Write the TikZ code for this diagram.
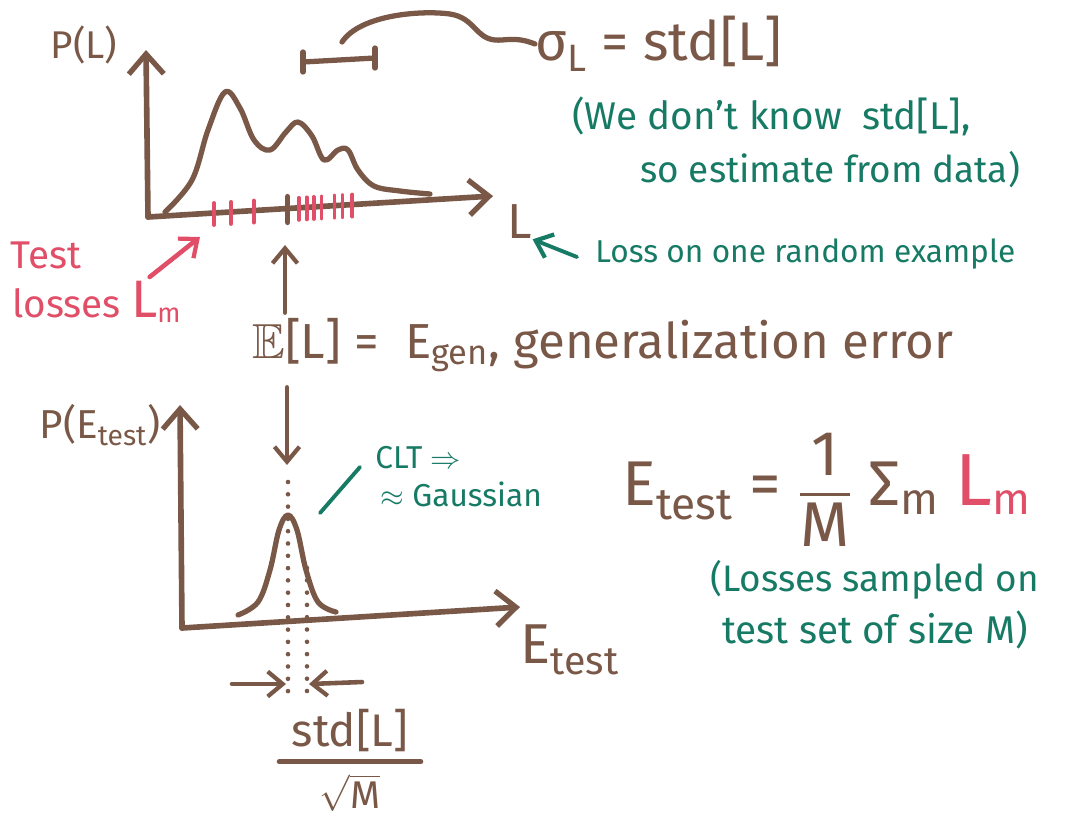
\documentclass[tikz,border=0pt]{standalone}
\usepackage{amsmath}
\usepackage{amssymb}
\usepackage{fontspec}
\setmainfont{Fira Sans}
\usepackage{tikz}
\usetikzlibrary{positioning, arrows.meta, calc}

\definecolor{pen}{RGB}{122,88,72}
\definecolor{ink}{RGB}{22,122,100}
\definecolor{rose}{RGB}{224,78,104}

\newcommand{\fs}[1]{\fontsize{#1}{#1}\selectfont}

\begin{document}
\begin{tikzpicture}[
			x=0.02cm, y=-0.02cm,
			axis/.style={draw=pen, line width=3.2pt, line cap=round, -{Straight Barb[length=4mm, width=7mm, line width=3pt]}},
			curve/.style={draw=pen, line width=3pt, line cap=round, line join=round},
			tick/.style={draw=rose, line width=2.2pt, line cap=round},
			dots/.style={draw=pen, line width=2.6pt, line cap=round, dash pattern=on 0pt off 7pt},
			brown/.style={text=pen, inner sep=0pt},
			green/.style={text=ink, inner sep=0pt, font=\fs{20}},
			red/.style={text=rose, inner sep=0pt},
			pointer/.style={line width=2.6pt, line cap=round, -{Straight Barb[length=3mm, width=5mm, line width=2.4pt]}}
			]
			\useasboundingbox (0,0) rectangle (1077,823);
			
			% top plot: distribution of the loss
			\coordinate (o1) at (148,217);
			\coordinate (ytop1) at (146,50);
			\coordinate (xend1) at (493,196);
			\draw[axis] (o1) -- (ytop1);
			\draw[axis] (o1) -- (xend1);
			\draw[curve] plot[smooth, tension=0.6] coordinates {(165,212) (192,180) (208,130) (225,92) (240,108) (254,140) (270,150) (286,132) (298,122) (312,136) (324,160) (338,150) (348,150) (358,170) (374,186) (400,191) (430,194)};
			\foreach \tx in {201,218,241,286,294,301,309,322,330,340}
				\draw[tick] ($(o1)!(\tx,0)!(xend1)+(0,-10)$) -- ++(0,22);
			\draw[draw=pen, line width=3pt, line cap=round] ($(o1)!(275,0)!(xend1)+(0,-12)$) -- ++(0,26);
			\node[brown, font=\fs{22}] (plabel) at (84,45) {P(L)};
			\node[brown, font=\fs{28}] (llabel) at (520,222) {L};
			
			% sigma_L bar and its label
			\coordinate (bara) at (303,62);
			\coordinate (barb) at (375,58);
			\draw[draw=pen, line width=3pt, line cap=round] (bara) -- (barb);
			\draw[draw=pen, line width=3pt, line cap=round] ($(bara)+(0,-10)$) -- ++(0,20);
			\draw[draw=pen, line width=3pt, line cap=round] ($(barb)+(0,-10)$) -- ++(0,20);
			\node[brown, font=\fs{31}, anchor=west] (sigmatext) at (535,44) {σ\textsubscript{L} = std[L]};
			\draw[curve] (342,42) .. controls (360,15) and (420,10) .. (450,14) .. controls (475,18) and (475,38) .. (495,40) .. controls (505,41) and (515,36) .. (sigmatext.west);
			\node[green, font=\fs{22}, anchor=west] (note1) at (572,116) {(We don't know \ std[L],};
			\node[green, font=\fs{21}, anchor=west] (note2) at (640,170) {so estimate from data)};
			
			% loss on one example
			\node[green, font=\fs{18}, anchor=west] (lossnote) at (595,254) {Loss on one random example};
			\draw[pointer, draw=ink, line width=2.2pt] (lossnote.west) ++(-18,3) coordinate (lpt) -- (llabel.south east);
			
			% test losses
			\node[red, font=\fs{22}, anchor=west] (testlbl) at (10,255) {Test};
			\node[red, font=\fs{22}, anchor=west] (lossesLbl) at (12,302) {losses {\fs{30}L}\textsubscript{m}};
			\coordinate (redtip) at (200,237);
			\draw[pointer, draw=rose] ($(testlbl.east)+(68,22)$) coordinate (redtail) -- (redtip);
			
			% expected loss
			\node[brown, font=\fs{28}, anchor=west] (elabel) at (252,345) {$\mathbb{E}$[L] =\ \ E\textsubscript{gen}, generalization error};
			\coordinate (upto) at (285,245);
			\draw[pointer, draw=pen] ($(elabel.north west)+(33,-5)$) coordinate (upfrom) -- (upto);
			\coordinate (downto) at (287,465);
			\draw[pointer, draw=pen] ($(elabel.south west)+(35,15)$) coordinate (downfrom) -- (downto);
			
			% bottom plot: distribution of the test error
			\coordinate (o2) at (182,628);
			\coordinate (ytop2) at (180,405);
			\coordinate (xend2) at (520,607);
			\draw[axis] (o2) -- (ytop2);
			\draw[axis] (o2) -- (xend2);
			\draw[curve] plot[smooth, tension=0.6] coordinates {(238,615) (258,602) (270,570) (279,530) (288,515) (297,530) (306,570) (318,602) (336,612)};
			\node[brown, font=\fs{23}] (petest) at (100,425) {P(E\textsubscript{test})};
			\node[brown, font=\fs{32}] (etestlabel) at (570,650) {E\textsubscript{test}};
			
			% dotted guide lines and width arrows
			\draw[dots] (288,482) -- (288,692);
			\draw[dots] (307,568) -- (307,692);
			\coordinate (wl) at (286,684);
			\coordinate (wr) at (309,684);
			\draw[pointer, draw=pen] (232,684) coordinate (wlfrom) -- (wl);
			\draw[pointer, draw=pen] (362,682) coordinate (wrfrom) -- (wr);
			\node[brown, font=\fs{26}] (stdnum) at (350,730) {std[L]};
			\node[brown, font=\fs{22}] (sqrtm) at (350,793) {$\sqrt{\text{M}}$};
			\draw[draw=pen, line width=3pt, line cap=round] ($(stdnum.south west)+(-12,10)$) -- ($(stdnum.south east)+(12,10)$);
			
			% central limit theorem
			\node[green, font=\fs{18}, anchor=west] (clt) at (375,458) {CLT $\Rightarrow$};
			\node[green, font=\fs{18}, anchor=west] (gauss) at (380,494) {$\approx$ Gaussian};
			\draw[draw=ink, line width=2.2pt, line cap=round] (320,513) -- (360,467);
			
			% definition of the test error
			\node[brown, font=\fs{36}, anchor=west] (etestdef) at (622,490) {E\textsubscript{test} = $\dfrac{\text{1}}{\text{M}}$ Σ\textsubscript{m} \textcolor{rose}{{\fs{42}L}\textsubscript{m}}};
			\node[green, font=\fs{21}, anchor=west] (sampled1) at (710,580) {(Losses sampled on};
			\node[green, font=\fs{22}, anchor=west] (sampled2) at (722,630) {test set of size M)};
		\end{tikzpicture}
\end{document}
